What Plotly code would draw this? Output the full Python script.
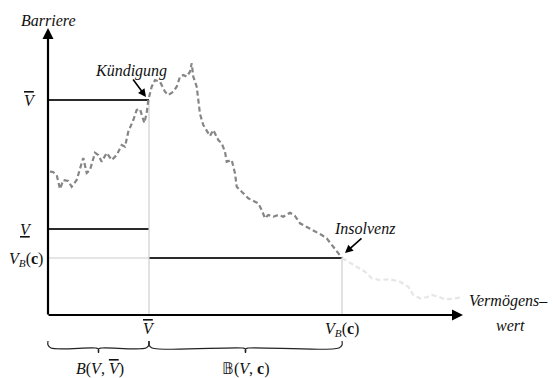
import plotly.graph_objects as go

# ---- data (chart units: x from the origin to the right, y from the origin upward) ----
V_BAR_X = 101      # position of V-bar on the asset axis
V_B_X = 294        # position of V_B(c) on the asset axis
V_BAR_Y = 215      # barrier level V-bar
V_UNDER_Y = 86     # barrier level V-underline
V_B_Y = 57         # barrier level V_B(c)

# asset path until insolvency (dark dashed)
path_x = [2, 5, 8.7, 12, 15.3, 20.3, 23.7, 28.7, 33.7, 35.3, 38.7, 42, 47, 50.3, 53.7,
          58.7, 63.7, 68.7, 73.7, 77, 80.3, 85.3, 88.7, 92, 96.3, 98.7, 100.3, 103.7,
          107, 112, 117, 120.3, 125.3, 128.7, 132, 135.3, 138.7, 142, 143.7, 145.3,
          148.7, 152, 155.3, 158.7, 162, 165.3, 170.3, 173.7, 177, 178.7, 183.7, 187,
          188.7, 193.7, 200.3, 207, 210.3, 213.7, 217, 220.3, 225.3, 230.3, 235.3,
          242, 247, 252, 258.7, 265.3, 273.7, 278.7, 283.7, 288.7, 294]
path_y = [143.3, 143, 140, 126, 135, 134, 128.3, 135, 152, 157, 142, 145, 162.3, 160,
          153.3, 162, 155, 160, 170, 168.3, 183.3, 195, 205, 206, 192, 202, 215, 228.3,
          235, 233.3, 223.3, 220, 223.3, 228.3, 238.3, 240, 238.3, 243.3, 251.7, 238.3,
          228.3, 201, 190, 184, 179, 185, 175, 171.7, 163.3, 153.3, 155, 141.7, 128.3,
          123.3, 116.7, 113.3, 111.7, 105, 96.7, 100, 98.3, 100, 98.3, 102.3, 99, 91.7,
          88.3, 85, 80, 76.7, 70, 63.3, 57]

# hypothetical path after insolvency (light dashed)
tail_x = [294, 300.3, 308.7, 317, 323.7, 332, 342, 352, 360.3, 365.3, 372, 378.7, 383.7,
          390.3, 397, 405.3, 415]
tail_y = [57, 53.3, 48.3, 43.3, 36.7, 35, 35.7, 33.3, 28.3, 20, 16.7, 17.7, 20, 18.3,
          15.7, 16.3, 18]

Y_TOP = 287        # end of barrier axis arrow
X_END = 415        # end of asset axis arrow

SERIF = "Liberation Serif, Times New Roman, serif"

fig = go.Figure()

# horizontal barrier lines
fig.add_trace(go.Scatter(x=[0, V_BAR_X], y=[V_BAR_Y, V_BAR_Y], mode="lines",
                         line=dict(color="#2a2a2a", width=1.8), hoverinfo="skip"))
fig.add_trace(go.Scatter(x=[0, V_BAR_X], y=[V_UNDER_Y, V_UNDER_Y], mode="lines",
                         line=dict(color="#2a2a2a", width=1.8), hoverinfo="skip"))
fig.add_trace(go.Scatter(x=[0, V_BAR_X], y=[V_B_Y, V_B_Y], mode="lines",
                         line=dict(color="#dcdcdc", width=1.5), hoverinfo="skip"))
fig.add_trace(go.Scatter(x=[V_BAR_X, V_B_X], y=[V_B_Y, V_B_Y], mode="lines",
                         line=dict(color="#2a2a2a", width=1.8), hoverinfo="skip"))
# vertical guides
fig.add_trace(go.Scatter(x=[V_BAR_X, V_BAR_X], y=[0, V_BAR_Y], mode="lines",
                         line=dict(color="#cfcfcf", width=1.2), hoverinfo="skip"))
fig.add_trace(go.Scatter(x=[V_B_X, V_B_X], y=[0, V_B_Y], mode="lines",
                         line=dict(color="#cfcfcf", width=1.2), hoverinfo="skip"))

# asset paths
fig.add_trace(go.Scatter(x=tail_x, y=tail_y, mode="lines",
                         line=dict(color="#e6e6e6", width=2.2, dash="5px,3px"), hoverinfo="skip"))
fig.add_trace(go.Scatter(x=path_x, y=path_y, mode="lines",
                         line=dict(color="#858585", width=2.2, dash="5px,3px"), hoverinfo="skip"))

# braces under the axis
def brace(x0, x1, ytop=-26, ymid=-33, ytip=-38, r=3):
    m = (x0 + x1) / 2
    xs = [x0, x0, x0 + r, m - r, m, m, m, m + r, x1 - r, x1, x1]
    ys = [ytop, ymid + r, ymid, ymid, ymid - 1, ytip, ymid - 1, ymid, ymid, ymid + r, ytop]
    return xs, ys

for a, b in [(0, V_BAR_X), (V_BAR_X, V_B_X)]:
    bx, by = brace(a, b)
    fig.add_trace(go.Scatter(x=bx, y=by, mode="lines", line=dict(color="#222", width=1.2),
                             line_shape="spline", hoverinfo="skip"))

ann = []
# axes with arrowheads
ann.append(dict(x=0, y=Y_TOP, ax=0, ay=-1, xref="x", yref="y", axref="x", ayref="y",
                text="", showarrow=True, arrowhead=2, arrowsize=1, arrowwidth=2.2,
                arrowcolor="#000", standoff=0))
ann.append(dict(x=X_END, y=0, ax=-1, ay=0, xref="x", yref="y", axref="x", ayref="y",
                text="", showarrow=True, arrowhead=2, arrowsize=1, arrowwidth=2.2,
                arrowcolor="#000", standoff=0))
# event arrows
ann.append(dict(x=98, y=218, ax=84, ay=237, xref="x", yref="y", axref="x", ayref="y",
                text="", showarrow=True, arrowhead=2, arrowsize=1, arrowwidth=1.6,
                arrowcolor="#000", standoff=0))
ann.append(dict(x=297, y=62, ax=315, ay=78, xref="x", yref="y", axref="x", ayref="y",
                text="", showarrow=True, arrowhead=2, arrowsize=1, arrowwidth=1.6,
                arrowcolor="#000", standoff=0))

def label(x, y, t, xanchor="center", size=16):
    ann.append(dict(x=x, y=y, xref="x", yref="y", text=t, showarrow=False,
                    xanchor=xanchor, yanchor="middle",
                    font=dict(family=SERIF, size=size, color="#111")))

OVER_V = "<span style='text-decoration:overline'><i>V</i></span>"
UNDER_V = "<span style='text-decoration:underline'><i>V</i></span>"
VB_C = "<i>V</i><sub><i>B</i></sub>(<b>c</b>)"

label(0, 295, "<i>Barriere</i>")
label(-18, V_BAR_Y, OVER_V)
label(-22, V_UNDER_Y, UNDER_V)
label(-3, V_B_Y - 1, VB_C, xanchor="right")
label(83, 244, "<i>Kündigung</i>")
label(317, 87, "<i>Insolvenz</i>")
label(460, 14, "<i>Vermögens–</i>")
label(462, -10, "<i>wert</i>")
label(V_BAR_X, -13, OVER_V)
label(V_B_X, -14, VB_C)
label(52, -54, "<i>B</i>(<i>V</i>, " + OVER_V + ")")
label((V_BAR_X + V_B_X) / 2, -54, "𝔹(<i>V</i>, <b>c</b>)")

fig.update_layout(
    width=553, height=378, margin=dict(l=0, r=0, t=0, b=0),
    font=dict(family=SERIF, size=16, color="#111"),
    paper_bgcolor="white", plot_bgcolor="white", showlegend=False,
    xaxis=dict(range=[-48, 505], visible=False, fixedrange=True),
    yaxis=dict(range=[-63, 315], visible=False, fixedrange=True),
    annotations=ann,
)

fig.write_html("out.html")
